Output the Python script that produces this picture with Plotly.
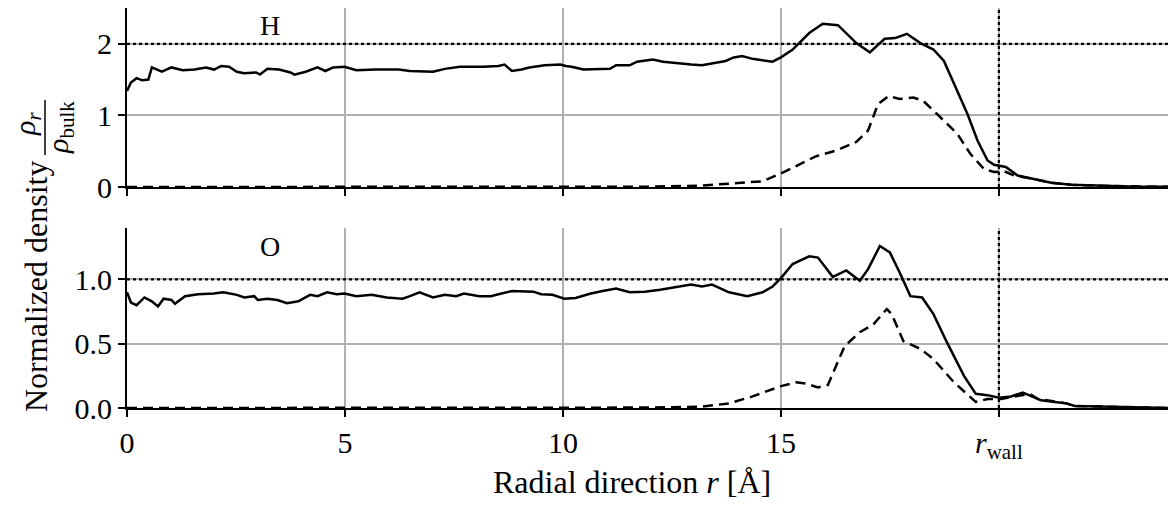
import plotly.graph_objects as go

# ---------------- data ----------------
r_H_total = [0, 0.09, 0.22, 0.35, 0.49, 0.57, 0.8, 1.02, 1.28, 1.55, 1.81, 2.0, 2.16, 2.34, 2.52, 2.69,
             2.96, 3.05, 3.22, 3.49, 3.75, 3.84, 4.1, 4.37, 4.55, 4.73, 4.99, 5.26, 5.7, 6.23, 6.49, 7.02,
             7.29, 7.64, 8.17, 8.52, 8.66, 8.83, 9.05, 9.23, 9.58, 9.94, 10.07, 10.2, 10.47, 10.82, 11.08,
             11.22, 11.53, 11.7, 12.06, 12.3, 12.59, 12.94, 13.19, 13.5, 13.73, 13.92, 14.11, 14.35, 14.81,
             15.0, 15.27, 15.65, 15.96, 16.31, 16.73, 17.04, 17.38, 17.62, 17.89, 18.2, 18.5, 18.74, 19.05,
             19.28, 19.51, 19.74, 19.89, 20.16, 20.43, 20.74, 21.2, 21.66, 22.43, 23.2, 23.88]
H_total = [1.34, 1.46, 1.52, 1.49, 1.50, 1.67, 1.61, 1.67, 1.63, 1.64, 1.67, 1.64, 1.69, 1.68, 1.61, 1.59,
           1.60, 1.57, 1.65, 1.64, 1.60, 1.57, 1.61, 1.67, 1.62, 1.67, 1.68, 1.63, 1.64, 1.64, 1.62, 1.61,
           1.65, 1.68, 1.68, 1.69, 1.71, 1.62, 1.64, 1.67, 1.70, 1.71, 1.69, 1.68, 1.64, 1.65, 1.65,
           1.70, 1.70, 1.75, 1.78, 1.75, 1.73, 1.71, 1.70, 1.74, 1.76, 1.81, 1.83, 1.79, 1.75,
           1.81, 1.92, 2.15, 2.28, 2.26, 2.01, 1.88, 2.07, 2.08, 2.14, 2.01, 1.92, 1.76, 1.34,
           1.02, 0.65, 0.37, 0.31, 0.28, 0.16, 0.12, 0.06, 0.03, 0.015, 0.005, 0.002]

r_H_shell = [0, 10.5, 12.0, 13.19, 13.96, 14.58, 15.0, 15.42, 15.81, 16.27, 16.73, 17.0, 17.23, 17.47, 17.73,
             18.04, 18.27, 18.58, 19.05, 19.35, 19.66, 19.89, 20.12, 20.35, 20.74, 21.2, 21.66, 22.43, 23.2, 23.88]
H_shell = [0, 0.0, 0.005, 0.02, 0.05, 0.08, 0.19, 0.32, 0.43, 0.51, 0.63, 0.79, 1.16, 1.27, 1.23,
           1.25, 1.20, 1.02, 0.74, 0.46, 0.25, 0.21, 0.22, 0.16, 0.12, 0.06, 0.03, 0.015, 0.005, 0.002]

r_O_total = [0, 0.09, 0.22, 0.4, 0.57, 0.71, 0.84, 1.02, 1.1, 1.33, 1.63, 1.99, 2.21, 2.52, 2.69, 2.92, 3.0,
             3.22, 3.45, 3.67, 3.93, 4.2, 4.37, 4.59, 4.81, 4.99, 5.26, 5.61, 5.96, 6.32, 6.49, 6.71, 7.02,
             7.29, 7.55, 7.73, 8.08, 8.35, 8.52, 8.83, 9.32, 9.5, 9.76, 10.03, 10.29, 10.64, 10.91, 11.22,
             11.53, 11.88, 12.23, 12.59, 12.94, 13.19, 13.42, 13.81, 14.23, 14.58, 14.81, 15.0, 15.27, 15.65,
             15.85, 16.19, 16.5, 16.81, 17.0, 17.27, 17.5, 17.73, 17.97, 18.24, 18.5, 18.81, 19.2, 19.47,
             19.74, 20.0, 20.28, 20.55, 20.78, 20.97, 21.28, 21.55, 21.74, 22.43, 23.2, 23.88]
O_total = [0.90, 0.82, 0.80, 0.86, 0.83, 0.79, 0.85, 0.84, 0.81, 0.87, 0.885, 0.89, 0.90, 0.88, 0.86, 0.87, 0.84,
           0.85, 0.84, 0.815, 0.83, 0.88, 0.87, 0.90, 0.885, 0.89, 0.87, 0.88, 0.86, 0.85, 0.87, 0.90, 0.86,
           0.88, 0.87, 0.89, 0.87, 0.87, 0.885, 0.91, 0.905, 0.885, 0.88, 0.85, 0.855, 0.89, 0.91, 0.93,
           0.90, 0.905, 0.92, 0.94, 0.96, 0.945, 0.96, 0.90, 0.87, 0.90, 0.945, 1.01, 1.12, 1.18,
           1.17, 1.02, 1.07, 0.99, 1.08, 1.26, 1.21, 1.05, 0.87, 0.86, 0.73, 0.51, 0.25, 0.11,
           0.10, 0.08, 0.09, 0.12, 0.09, 0.06, 0.047, 0.036, 0.016, 0.01, 0.003, 0.0]

r_O_shell = [0, 10.5, 11.5, 12.5, 13.19, 13.81, 14.35, 15.0, 15.35, 15.58, 15.85, 16.08, 16.46, 16.81, 17.12,
             17.43, 17.54, 17.81, 18.2, 18.5, 18.97, 19.47, 19.74, 20.05, 20.35, 20.7, 20.9, 21.28, 21.55,
             21.74, 22.43, 23.2, 23.88]
O_shell = [0, 0.0, 0.003, 0.006, 0.01, 0.036, 0.09, 0.17, 0.20, 0.19, 0.16, 0.18, 0.48, 0.59, 0.65,
           0.77, 0.73, 0.52, 0.46, 0.38, 0.20, 0.047, 0.07, 0.07, 0.09, 0.11, 0.07, 0.047, 0.036,
           0.016, 0.01, 0.003, 0.0]

r_wall = 20.0
H_ref = 2.0
O_ref = 1.0
x_tick_vals = [0, 5, 10, 15, 20]
x_tick_text = ["0", "5", "10", "15", "<i>r</i><sub>wall</sub>"]
yH_ticks = [0, 1, 2]
yO_ticks = [0.0, 0.5, 1.0]
x_max = 23.88
yH_max = 2.5
yO_max = 1.4
panel_labels = ["H", "O"]

# ---------------- figure ----------------
FONT = "Liberation Serif"
TICK_SIZE = 30
LABEL_SIZE = 32
PANEL_SIZE = 28
FRAC_SIZE = 30
W, H = 1176, 512
OFF = 8  # page body margin of the html page (screen offset of the figure)
ML, MR, MT, MB = 119, 16, 0, 112
PW, PH = W - ML - MR, H - MT - MB


def px2paper(sx, sy):
    """screen pixel -> paper coordinates"""
    fx, fy = sx - OFF, sy - OFF
    return (fx - ML) / PW, (H - MB - fy) / PH


fig = go.Figure()
solid = dict(color="black", width=2.5)
dashed = dict(color="black", width=2.5, dash="10px,6px")
dotted = dict(color="black", width=2.2, dash="dot")

# reference lines
fig.add_trace(go.Scatter(x=[0, x_max], y=[H_ref, H_ref], mode="lines", line=dotted, xaxis="x", yaxis="y", showlegend=False))
fig.add_trace(go.Scatter(x=[r_wall, r_wall], y=[0, yH_max], mode="lines", line=dotted, xaxis="x", yaxis="y", showlegend=False))
fig.add_trace(go.Scatter(x=[0, x_max], y=[O_ref, O_ref], mode="lines", line=dotted, xaxis="x2", yaxis="y2", showlegend=False))
fig.add_trace(go.Scatter(x=[r_wall, r_wall], y=[0, yO_max], mode="lines", line=dotted, xaxis="x2", yaxis="y2", showlegend=False))

fig.add_trace(go.Scatter(x=r_H_shell, y=H_shell, mode="lines", line=dashed, xaxis="x", yaxis="y", showlegend=False))
fig.add_trace(go.Scatter(x=r_H_total, y=H_total, mode="lines", line=solid, xaxis="x", yaxis="y", showlegend=False))
fig.add_trace(go.Scatter(x=r_O_shell, y=O_shell, mode="lines", line=dashed, xaxis="x2", yaxis="y2", showlegend=False))
fig.add_trace(go.Scatter(x=r_O_total, y=O_total, mode="lines", line=solid, xaxis="x2", yaxis="y2", showlegend=False))

axis_common = dict(showline=True, linecolor="black", linewidth=2, ticks="outside", ticklen=7, tickwidth=2,
                   tickcolor="black", showgrid=True, gridcolor="#b0b0b0", gridwidth=1.5, zeroline=False,
                   automargin=False,
                   tickfont=dict(family=FONT, size=TICK_SIZE, color="black"))

_, top_lo = px2paper(0, 187)
_, bot_hi = px2paper(0, 228)

fig.update_layout(
    width=W, height=H,
    margin=dict(l=ML, r=MR, t=MT, b=MB, autoexpand=False),
    paper_bgcolor="white", plot_bgcolor="white",
    font=dict(family=FONT, color="black"),
    xaxis=dict(domain=[0, 1], anchor="y", range=[0, x_max], tickvals=x_tick_vals, showticklabels=False,
               matches="x2", **axis_common),
    yaxis=dict(domain=[top_lo, 1], anchor="x", range=[0, yH_max], tickvals=yH_ticks,
               ticktext=[str(v) for v in yH_ticks], **axis_common),
    xaxis2=dict(domain=[0, 1], anchor="y2", range=[0, x_max], tickvals=x_tick_vals, ticktext=x_tick_text,
                **axis_common),
    yaxis2=dict(domain=[0, bot_hi], anchor="x2", range=[0, yO_max], tickvals=yO_ticks,
                ticktext=["%.1f" % v for v in yO_ticks], **axis_common),
)

# panel labels
fig.add_annotation(x=3.27, y=1.0, xref="x", yref="y domain", yanchor="top", text=panel_labels[0],
                   showarrow=False, font=dict(family=FONT, size=PANEL_SIZE, color="black"))
fig.add_annotation(x=3.27, y=1.26, xref="x2", yref="y2", text=panel_labels[1], showarrow=False,
                   font=dict(family=FONT, size=PANEL_SIZE, color="black"))

# x-axis title
ax, ay = px2paper(632, 482)
fig.add_annotation(x=ax, y=ay, xref="paper", yref="paper", text="Radial direction <i>r</i> [Å]",
                   showarrow=False, xanchor="center", yanchor="middle",
                   font=dict(family=FONT, size=LABEL_SIZE, color="black"))

# y-axis title with fraction
tx, ty = px2paper(36, 287)
fig.add_annotation(x=tx, y=ty, xref="paper", yref="paper", text="Normalized density", textangle=-90,
                   showarrow=False, xanchor="center", yanchor="middle",
                   font=dict(family=FONT, size=LABEL_SIZE, color="black"))
nx, ny = px2paper(27, 124)
fig.add_annotation(x=nx, y=ny, xref="paper", yref="paper", text="<i>ρ</i><sub><i>r</i></sub>", textangle=-90,
                   showarrow=False, xanchor="center", yanchor="middle",
                   font=dict(family=FONT, size=FRAC_SIZE, color="black"))
dx, dy = px2paper(60, 128)
fig.add_annotation(x=dx, y=dy, xref="paper", yref="paper", text="<i>ρ</i><sub>bulk</sub>", textangle=-90,
                   showarrow=False, xanchor="center", yanchor="middle",
                   font=dict(family=FONT, size=FRAC_SIZE, color="black"))
bx0, by0 = px2paper(45, 100)
bx1, by1 = px2paper(45, 155)
fig.add_shape(type="line", xref="paper", yref="paper", x0=bx0, y0=by0, x1=bx1, y1=by1,
              line=dict(color="black", width=1.5))

fig.write_html("out.html")
